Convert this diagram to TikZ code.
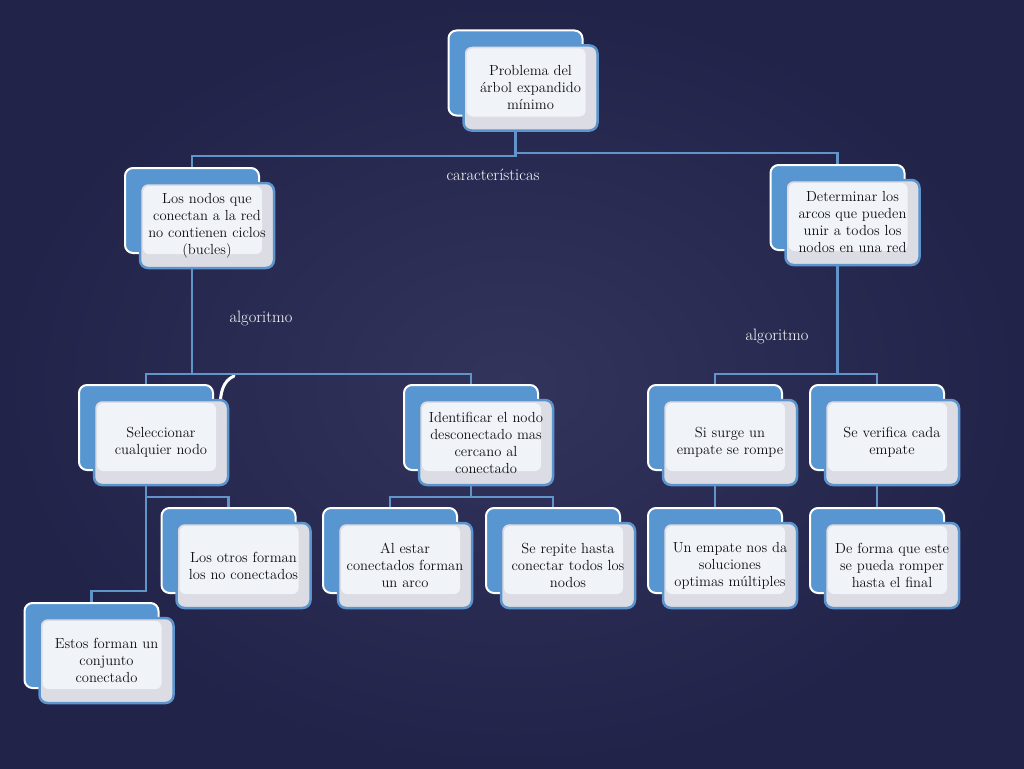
\documentclass[tikz,border=0pt]{standalone}
\usetikzlibrary{calc}
\pgfdeclarelayer{bg}
\pgfdeclarelayer{lines}
\pgfsetlayers{bg,lines,main}
\definecolor{bgin}{RGB}{50,52,92}
\definecolor{bgout}{RGB}{34,35,73}
\definecolor{backblue}{RGB}{88,150,210}
\definecolor{frontedge}{RGB}{92,148,206}
\definecolor{frontfill}{RGB}{220,221,228}
\definecolor{fronthi}{RGB}{240,243,248}
\definecolor{connblue}{RGB}{98,148,202}
\definecolor{txt}{RGB}{15,15,20}
\newcommand\boxpair[4]{%
  \node[backbox] (#1b) at (#2,#3) {};
  \node[frontbox] (#1) at ($(#2,#3)+(15,15)$) {#4};}
\begin{document}
\begin{tikzpicture}[x=1pt,y=-1pt,
  backbox/.style={draw=white, line width=2pt, fill=backblue, rounded corners=8pt,
    minimum width=134pt, minimum height=85pt, inner sep=0pt},
  frontbox/.style={draw=frontedge, line width=2.5pt, fill=frontfill, rounded corners=8pt,
    minimum width=134pt, minimum height=85pt, inner sep=0pt, text width=132pt,
    align=center, font=\fontsize{14.6}{17}\selectfont, text=txt,
    path picture={\fill[fronthi, rounded corners=6pt]
      ([shift={(3,3)}]path picture bounding box.north west) rectangle
      ([shift={(-12,-14)}]path picture bounding box.south east);}},
  conn/.style={draw=connblue, line width=2.5pt},
  lbl/.style={text=white, font=\fontsize{16.5}{19}\selectfont}]
\useasboundingbox (0,0) rectangle (1024,768);
\begin{pgfonlayer}{bg}
  \shade[inner color=bgin, outer color=bgout] (0,0) rectangle (1024,768);
\end{pgfonlayer}

\boxpair{top}{515.5}{73}{Problema del\\árbol expandido\\mínimo}
\boxpair{nodos}{192}{210.5}{Los nodos que\\conectan a la red\\no contienen ciclos\\(bucles)}
\boxpair{det}{837.5}{207.5}{Determinar los\\arcos que pueden\\unir a todos los\\nodos en una red}
\boxpair{sel}{146}{427.5}{Seleccionar\\cualquier nodo}
\boxpair{ident}{471}{427.5}{Identificar el nodo\\desconectado mas\\cercano al\\conectado}
\boxpair{si}{715}{427.5}{Si surge un\\empate se rompe}
\boxpair{verif}{877}{427.5}{Se verifica cada\\empate}
\boxpair{otros}{228.5}{550.5}{Los otros forman\\los no conectados}
\boxpair{estos}{91.5}{645.5}{Estos forman un\\conjunto\\conectado}
\boxpair{alestar}{390}{550.5}{Al estar\\conectados forman\\un arco}
\boxpair{repite}{553}{550.5}{Se repite hasta\\conectar todos los\\nodos}
\boxpair{empate}{715}{550.5}{Un empate nos da\\soluciones\\optimas múltiples}
\boxpair{forma}{877}{550.5}{De forma que este\\se pueda romper\\hasta el final}

\begin{pgfonlayer}{lines}
  \draw[white, line width=3pt, line cap=round] (234,376) .. controls (223,381) and (220,392) .. (220,410) -- (220,458);
  \draw[conn] (topb.south |- top.south) -- (topb.south |- 0,156) -| (nodosb.north);
  \draw[conn] (topb.south |- top.south) -- (topb.south |- 0,153) -| (detb.north);
  \draw[conn] (nodosb.south |- nodos.south) -- (nodosb.south |- 0,374) -| (selb.north);
  \draw[conn] (nodosb.south |- 0,374) -| (identb.north);
  \draw[conn] (detb.south |- det.south) -- (detb.south |- 0,374) -| (sib.north);
  \draw[conn] (detb.south |- 0,374) -| (verifb.north);
  \draw[conn] (selb.south |- sel.south) -- (selb.south |- 0,591) -| (estosb.north);
  \draw[conn] (selb.south |- 0,497) -| (otrosb.north);
  \draw[conn] (identb.south |- ident.south) -- (identb.south |- 0,497) -| (alestarb.north);
  \draw[conn] (identb.south |- 0,497) -| (repiteb.north);
  \draw[conn] (sib.south |- si.south) -- (empateb.north);
  \draw[conn] (verifb.south |- verif.south) -- (formab.north);
\end{pgfonlayer}

\node[lbl] (lcar) at (493,175) {características};
\node[lbl] (lalg1) at (261,318) {algoritmo};
\node[lbl] (lalg2) at (777,336) {algoritmo};
\end{tikzpicture}
\end{document}
